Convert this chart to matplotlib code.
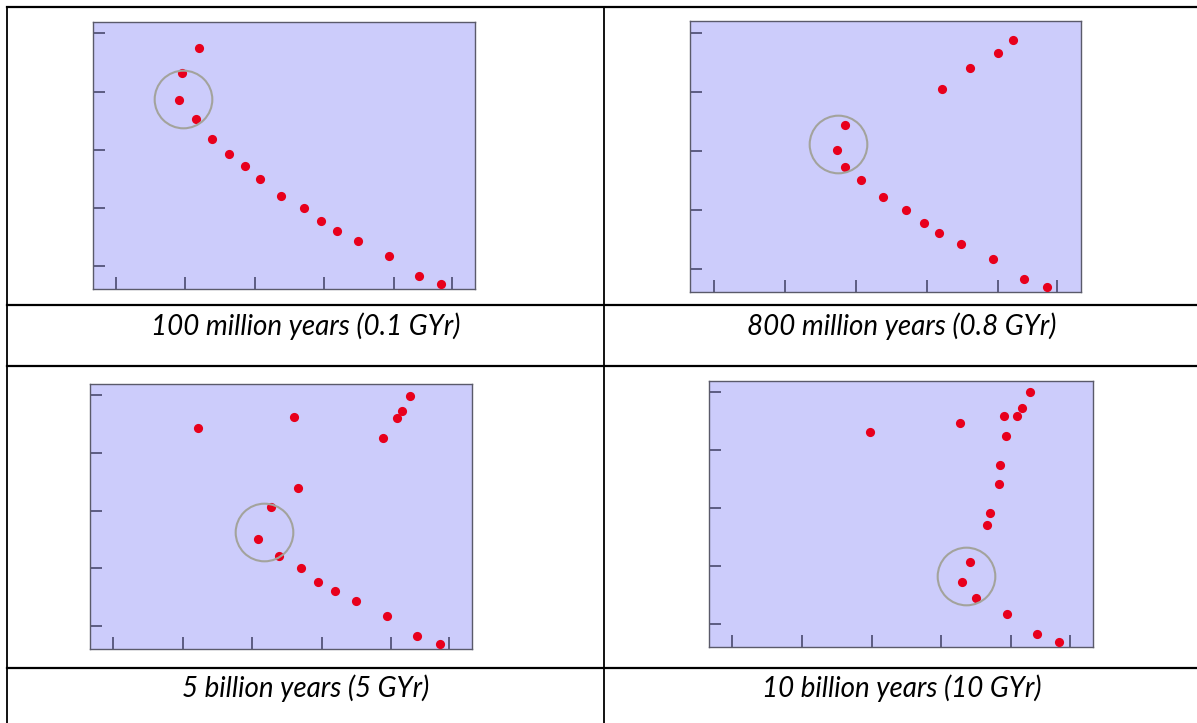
import matplotlib.pyplot as plt
from matplotlib.lines import Line2D

W, H = 1197, 723  # figure size in pixels

captions = ["100 million years (0.1 GYr)", "800 million years (0.8 GYr)",
            "5 billion years (5 GYr)", "10 billion years (10 GYr)"]

# star positions (colour, brightness) in tick units
x_01 = [1.20, 0.96, 0.91, 1.15, 1.39, 1.63, 1.86, 2.08, 2.38, 2.71, 2.95, 3.18, 3.49, 3.93, 4.36, 4.68]
y_01 = [3.75, 3.31, 2.86, 2.52, 2.19, 1.92, 1.72, 1.50, 1.20, 0.99, 0.77, 0.60, 0.43, 0.17, -0.17, -0.31]

x_08 = [4.21, 4.00, 3.61, 3.22, 1.85, 1.74, 1.85, 2.08, 2.38, 2.71, 2.96, 3.18, 3.49, 3.94, 4.37, 4.69]
y_08 = [3.87, 3.66, 3.40, 3.05, 2.43, 2.01, 1.72, 1.50, 1.21, 0.99, 0.77, 0.60, 0.42, 0.16, -0.18, -0.31]

x_5 = [4.28, 4.16, 4.08, 3.89, 2.60, 1.22, 2.66, 2.27, 2.08, 2.38, 2.71, 2.95, 3.19, 3.50, 3.94, 4.38, 4.70]
y_5 = [3.99, 3.73, 3.60, 3.26, 3.62, 3.44, 2.39, 2.06, 1.51, 1.21, 1.00, 0.77, 0.61, 0.44, 0.18, -0.17, -0.30]

x_10 = [4.27, 4.16, 4.08, 3.89, 3.93, 3.27, 1.98, 3.84, 3.82, 3.69, 3.65, 3.41, 3.30, 3.49, 3.94, 4.37, 4.69]
y_10 = [4.00, 3.72, 3.59, 3.59, 3.25, 3.47, 3.32, 2.74, 2.42, 1.92, 1.71, 1.07, 0.73, 0.44, 0.17, -0.17, -0.31]

# marked star (ring centre) for each age
ring_x = [0.97, 1.75, 2.17, 3.35]
ring_y = [2.87, 2.12, 1.63, 0.82]

xticks = [0, 1, 2, 3, 4, 4.84]
yticks = [0, 1, 2, 3, 4]

series = [(x_01, y_01), (x_08, y_08), (x_5, y_5), (x_10, y_10)]

# axes boxes in pixels: left, top, right, bottom
boxes = [(92.6, 21.7, 475.3, 289.3), (690.3, 21.0, 1080.7, 292.3),
         (90.3, 383.7, 472.3, 649.3), (709.1, 380.7, 1092.9, 647.0)]
caption_xy = [(305.5, 326), (902, 326), (305.5, 688), (902, 688)]

fig = plt.figure(figsize=(W / 100, H / 100), dpi=100)
fig.patch.set_facecolor("white")

for i, ((xs, ys), (l, t, r, b)) in enumerate(zip(series, boxes)):
    ax = fig.add_axes([l / W, 1 - b / H, (r - l) / W, (b - t) / H])
    ax.set_facecolor("#ccccfb")
    ax.plot(xs, ys, "o", color="#e8001c", markersize=6.6, markeredgewidth=0, zorder=3)
    ax.plot(ring_x[i], ring_y[i], "o", markersize=41.5, markerfacecolor="none",
            markeredgecolor="#a3a39c", markeredgewidth=1.5, zorder=4)
    ax.set_xlim(-0.33, 5.17)
    ax.set_ylim(-0.40, 4.20)
    ax.set_xticks(xticks)
    ax.set_yticks(yticks)
    ax.set_xticklabels([])
    ax.set_yticklabels([])
    ax.tick_params(direction="in", length=8.5, width=1.2, color="#4a4a6e")
    for s in ax.spines.values():
        s.set_color("#5a5a6a")
        s.set_linewidth(1.0)

    cx, cy = caption_xy[i]
    fig.text(cx / W, 1 - cy / H, captions[i], ha="center", va="center",
             fontsize=20, style="italic", family="Lato", color="black")

# table rules
def hline(y, x0=7.3, x1=W):
    fig.add_artist(Line2D([x0 / W, x1 / W], [1 - y / H, 1 - y / H], color="black", lw=1.6))

def vline(x, y0=6.7, y1=H):
    fig.add_artist(Line2D([x / W, x / W], [1 - y0 / H, 1 - y1 / H], color="black", lw=1.3))

hline(6.7)
hline(304.7)
hline(366.0)
hline(668.3)
vline(7.3)
vline(603.7)

plt.savefig("out.png", dpi=100)
